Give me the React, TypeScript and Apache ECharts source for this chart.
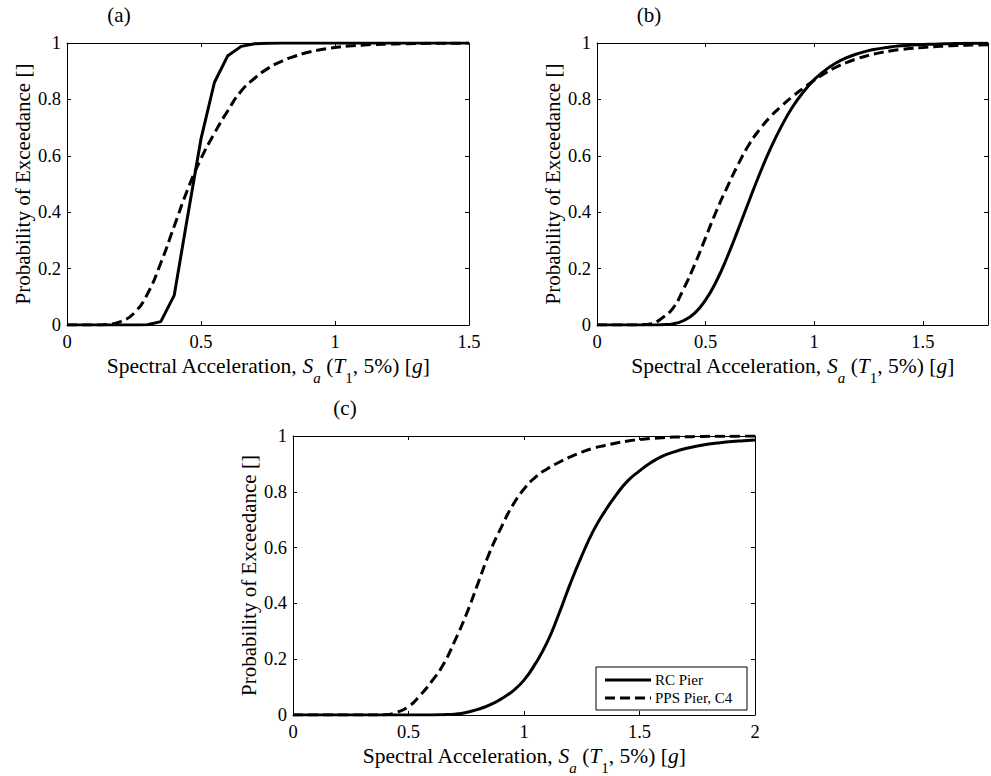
import React, { useEffect, useRef } from "react";
import * as echarts from "echarts";

// ---------- data ----------
const saA = [0, 0.05, 0.1, 0.15, 0.2, 0.25, 0.3, 0.35, 0.4, 0.45, 0.5, 0.55, 0.6, 0.65, 0.7, 0.75, 0.8, 0.85, 0.9, 0.95, 1.0, 1.05, 1.1, 1.15, 1.2, 1.25, 1.3, 1.35, 1.4, 1.45, 1.5];
const rcA = [0, 0, 0, 0, 0, 0, 0.001, 0.012, 0.105, 0.385, 0.66, 0.86, 0.955, 0.988, 0.997, 0.999, 1, 1, 1, 1, 1, 1, 1, 1, 1, 1, 1, 1, 1, 1, 1];
const ppsA = [0, 0, 0, 0.002, 0.012, 0.042, 0.11, 0.22, 0.35, 0.48, 0.59, 0.68, 0.76, 0.83, 0.875, 0.91, 0.935, 0.953, 0.967, 0.977, 0.984, 0.989, 0.992, 0.995, 0.996, 0.997, 0.998, 0.999, 0.999, 0.999, 1.0];

const saB = [0, 0.05, 0.1, 0.15, 0.2, 0.25, 0.3, 0.35, 0.4, 0.45, 0.5, 0.55, 0.6, 0.65, 0.7, 0.75, 0.8, 0.85, 0.9, 0.95, 1.0, 1.05, 1.1, 1.15, 1.2, 1.25, 1.3, 1.35, 1.4, 1.45, 1.5, 1.55, 1.6, 1.65, 1.7, 1.75, 1.8];
const rcB = [0, 0, 0, 0, 0, 0, 0.001, 0.004, 0.016, 0.042, 0.089, 0.156, 0.242, 0.339, 0.44, 0.538, 0.628, 0.706, 0.773, 0.826, 0.87, 0.903, 0.929, 0.948, 0.962, 0.973, 0.98, 0.986, 0.99, 0.993, 0.995, 0.996, 0.997, 0.998, 0.999, 0.999, 0.999];
const ppsB = [0, 0, 0, 0, 0.001, 0.005, 0.025, 0.06, 0.13, 0.215, 0.31, 0.405, 0.49, 0.57, 0.64, 0.695, 0.74, 0.777, 0.81, 0.84, 0.868, 0.893, 0.914, 0.931, 0.945, 0.956, 0.965, 0.972, 0.977, 0.981, 0.984, 0.987, 0.989, 0.991, 0.992, 0.993, 0.994];

const saC = [0, 0.05, 0.1, 0.15, 0.2, 0.25, 0.3, 0.35, 0.4, 0.45, 0.5, 0.55, 0.6, 0.65, 0.7, 0.75, 0.8, 0.85, 0.9, 0.95, 1.0, 1.05, 1.1, 1.15, 1.2, 1.25, 1.3, 1.35, 1.4, 1.45, 1.5, 1.55, 1.6, 1.65, 1.7, 1.75, 1.8, 1.85, 1.9, 1.95, 2.0];
const rcC = [0, 0, 0, 0, 0, 0, 0, 0, 0, 0, 0, 0, 0, 0.001, 0.003, 0.009, 0.02, 0.035, 0.057, 0.085, 0.125, 0.185, 0.26, 0.36, 0.47, 0.57, 0.66, 0.73, 0.79, 0.84, 0.875, 0.905, 0.928, 0.943, 0.955, 0.964, 0.971, 0.976, 0.98, 0.983, 0.986];
const ppsC = [0, 0, 0, 0, 0, 0, 0, 0, 0.001, 0.01, 0.03, 0.07, 0.12, 0.18, 0.265, 0.36, 0.47, 0.58, 0.67, 0.75, 0.81, 0.853, 0.882, 0.905, 0.925, 0.942, 0.956, 0.966, 0.975, 0.982, 0.987, 0.991, 0.994, 0.996, 0.997, 0.998, 0.999, 0.999, 0.999, 1, 1];

const xMaxes = [1.5, 1.8, 2];
const panelLabels = ["(a)", "(b)", "(c)"];
const seriesNames = ["RC Pier", "PPS Pier, C4"];
const yAxisTitle = "Probability of Exceedance []";
const xAxisTitle =
  "{n|Spectral Acceleration, }{i|S}{s|a}{n| (}{i|T}{d|1}{n|, 5%) [}{i|g}{n|]}";

const FONT = '"Liberation Serif", "Times New Roman", serif';
const DASH = [10, 5];

const pairs = (xs: number[], ys: number[]) => xs.map((x, i) => [x, ys[i]]);

// panel boxes (left, top, width, height)
const grids = [
  { left: 67, top: 43, width: 402, height: 282 },
  { left: 597, top: 43, width: 402, height: 282 },
  { left: 293, top: 436, width: 462, height: 282 },
];

export default function App() {
  const ref = useRef<HTMLDivElement>(null);

  useEffect(() => {
    if (!ref.current) return;
    const chart = echarts.init(ref.current, undefined, { renderer: "svg" });

    const subBase = { fontSize: 15, lineHeight: 30, verticalAlign: "bottom", fontFamily: FONT, color: "#000" };
    const richName = {
      n: { fontSize: 21.5, lineHeight: 22, verticalAlign: "top", fontFamily: FONT, color: "#000" },
      i: { fontSize: 21.5, lineHeight: 22, verticalAlign: "top", fontFamily: FONT, fontStyle: "italic", color: "#000" },
      s: { ...subBase, fontStyle: "italic" },
      d: { ...subBase },
    };

    const axisLine = { show: true, onZero: false, lineStyle: { color: "#000", width: 1 } };
    const tick = { show: true, inside: true, length: 4, lineStyle: { color: "#000", width: 1 } };

    const xAxes: any[] = [];
    const yAxes: any[] = [];
    grids.forEach((g, gi) => {
      const max = xMaxes[gi];
      xAxes.push({
        type: "value",
        gridIndex: gi,
        position: "bottom",
        min: 0,
        max,
        interval: 0.5,
        axisLine,
        axisTick: tick,
        splitLine: { show: false },
        axisLabel: {
          color: "#000",
          fontSize: 18.5,
          fontFamily: FONT,
          margin: 7,
          formatter: (v: number) =>
            Math.abs(v * 2 - Math.round(v * 2)) < 1e-6 ? String(Math.round(v * 10) / 10) : "",
        },
        name: xAxisTitle,
        nameLocation: "middle",
        nameGap: 30,
        nameTextStyle: { rich: richName },
      });
      xAxes.push({
        type: "value",
        gridIndex: gi,
        position: "top",
        min: 0,
        max,
        interval: 0.5,
        axisLine,
        axisTick: tick,
        axisLabel: { show: false },
        splitLine: { show: false },
      });
      yAxes.push({
        type: "value",
        gridIndex: gi,
        position: "left",
        min: 0,
        max: 1,
        interval: 0.2,
        axisLine,
        axisTick: tick,
        splitLine: { show: false },
        axisLabel: { color: "#000", fontSize: 18.5, fontFamily: FONT, margin: 6 },
        name: yAxisTitle,
        nameLocation: "middle",
        nameGap: 34,
        nameTextStyle: { color: "#000", fontSize: 21, fontFamily: FONT },
      });
      yAxes.push({
        type: "value",
        gridIndex: gi,
        position: "right",
        min: 0,
        max: 1,
        interval: 0.2,
        axisLine,
        axisTick: tick,
        axisLabel: { show: false },
        splitLine: { show: false },
      });
    });

    const mk = (name: string, gi: number, xs: number[], ys: number[], dashed: boolean, smooth: boolean) => ({
      name,
      type: "line",
      xAxisIndex: gi * 2,
      yAxisIndex: gi * 2,
      data: pairs(xs, ys),
      symbol: "none",
      showSymbol: false,
      smooth: smooth ? 0.5 : false,
      silent: true,
      clip: true,
      lineStyle: { color: "#000", width: 3, type: dashed ? DASH : "solid", cap: "butt" },
    });

    const series = [
      mk(seriesNames[0], 0, saA, rcA, false, false),
      mk(seriesNames[1], 0, saA, ppsA, true, true),
      mk(seriesNames[0], 1, saB, rcB, false, true),
      mk(seriesNames[1], 1, saB, ppsB, true, true),
      mk(seriesNames[0], 2, saC, rcC, false, true),
      mk(seriesNames[1], 2, saC, ppsC, true, true),
    ];

    const labelFont = `21px ${FONT}`;
    const panelText = grids.map((g, i) => ({
      type: "text",
      x: g.left + 52,
      y: g.top - 28,
      style: { text: panelLabels[i], font: labelFont, fill: "#000", align: "center", verticalAlign: "middle" },
    }));

    const gc = grids[2];
    const lgW = 151;
    const lgH = 43;
    const lgX = gc.left + gc.width - 8 - lgW;
    const lgY = gc.top + gc.height - 8 - lgH;
    const legendFont = `15px ${FONT}`;
    const legend = {
      type: "group",
      children: [
        { type: "rect", shape: { x: lgX, y: lgY, width: lgW, height: lgH }, style: { fill: "#fff", stroke: "#000", lineWidth: 1 } },
        { type: "line", shape: { x1: lgX + 9, y1: lgY + 13, x2: lgX + 55, y2: lgY + 13 }, style: { stroke: "#000", lineWidth: 3 } },
        { type: "line", shape: { x1: lgX + 9, y1: lgY + 31, x2: lgX + 55, y2: lgY + 31 }, style: { stroke: "#000", lineWidth: 3, lineDash: DASH } },
        { type: "text", x: lgX + 59, y: lgY + 13, style: { text: seriesNames[0], font: legendFont, fill: "#000", align: "left", verticalAlign: "middle" } },
        { type: "text", x: lgX + 59, y: lgY + 31, style: { text: seriesNames[1], font: legendFont, fill: "#000", align: "left", verticalAlign: "middle" } },
      ],
    };

    chart.setOption({
      animation: false,
      backgroundColor: "#fff",
      textStyle: { fontFamily: FONT, color: "#000" },
      grid: grids.map((g) => ({ ...g, containLabel: false, show: false })),
      xAxis: xAxes,
      yAxis: yAxes,
      series,
      graphic: [...panelText, legend],
    });

    return () => chart.dispose();
  }, []);

  return (
    <div
      ref={ref}
      style={{ position: "absolute", left: 0, top: 0, width: 991, height: 776, overflow: "hidden", background: "#fff" }}
    />
  );
}
